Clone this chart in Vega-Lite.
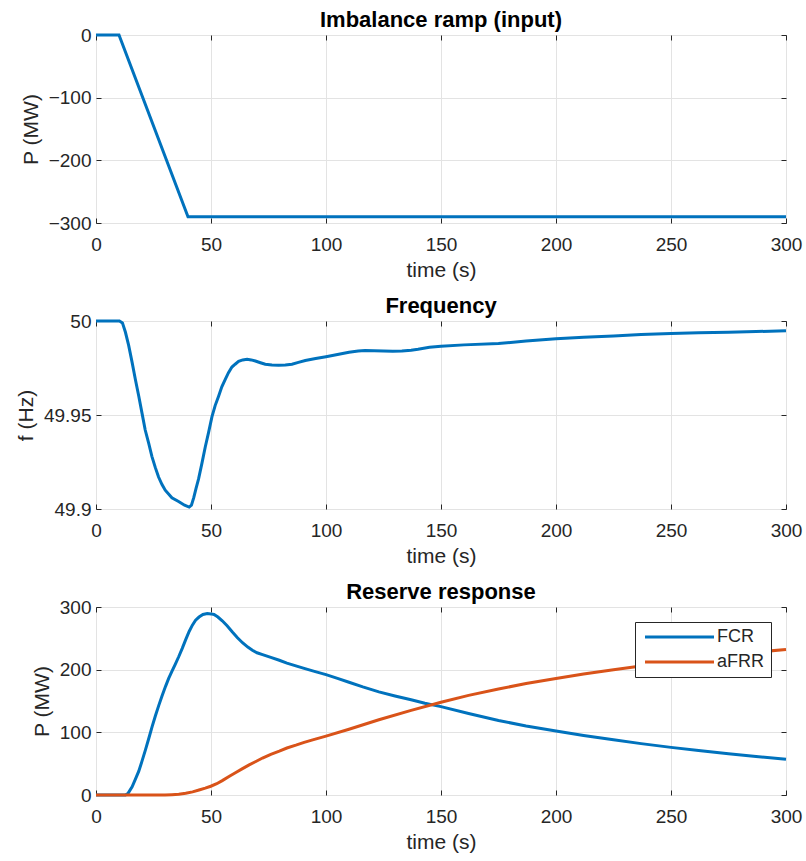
{
  "$schema": "https://vega.github.io/schema/vega-lite/v6.json",
  "padding": {"left": 14, "top": 8, "right": 2, "bottom": 0},
  "background": "white",
  "spacing": 13,
  "resolve": {"legend": {"color": "independent"}},
  "datasets": {
    "imb": [
      {"t": 0, "P": 0}, {"t": 10, "P": 0}, {"t": 40, "P": -290}, {"t": 300, "P": -290}
    ],
    "freq": [
      {"t": 0, "f": 50}, {"t": 10.2, "f": 50}, {"t": 11.5, "f": 49.999}, {"t": 12.8, "f": 49.994},
      {"t": 14.2, "f": 49.987}, {"t": 15.7, "f": 49.978}, {"t": 17.1, "f": 49.969}, {"t": 18.6, "f": 49.96},
      {"t": 20, "f": 49.951}, {"t": 21.4, "f": 49.942}, {"t": 22.9, "f": 49.935}, {"t": 24.3, "f": 49.928},
      {"t": 25.8, "f": 49.922}, {"t": 27.2, "f": 49.917}, {"t": 28.7, "f": 49.913}, {"t": 30.1, "f": 49.91},
      {"t": 33, "f": 49.906}, {"t": 35.9, "f": 49.904}, {"t": 38.5, "f": 49.902}, {"t": 40.5, "f": 49.901},
      {"t": 41.5, "f": 49.902}, {"t": 42.5, "f": 49.906}, {"t": 43.5, "f": 49.911}, {"t": 44.6, "f": 49.916},
      {"t": 46, "f": 49.924}, {"t": 47.5, "f": 49.933}, {"t": 49, "f": 49.941}, {"t": 50.4, "f": 49.949},
      {"t": 51.8, "f": 49.955}, {"t": 53.3, "f": 49.96}, {"t": 54.7, "f": 49.965}, {"t": 56.2, "f": 49.969},
      {"t": 57.6, "f": 49.9725}, {"t": 59.1, "f": 49.9755}, {"t": 60.5, "f": 49.977}, {"t": 62, "f": 49.9785},
      {"t": 63.8, "f": 49.9793}, {"t": 65.7, "f": 49.9796}, {"t": 67.5, "f": 49.9793}, {"t": 69.3, "f": 49.9787},
      {"t": 71.5, "f": 49.9778}, {"t": 73.6, "f": 49.977}, {"t": 76.5, "f": 49.9766}, {"t": 79.4, "f": 49.9764},
      {"t": 82.3, "f": 49.9766}, {"t": 85.2, "f": 49.977}, {"t": 88, "f": 49.978}, {"t": 91, "f": 49.979},
      {"t": 95.5, "f": 49.98}, {"t": 100, "f": 49.981}, {"t": 105, "f": 49.9822}, {"t": 110, "f": 49.9834},
      {"t": 114, "f": 49.984}, {"t": 117, "f": 49.9843}, {"t": 121, "f": 49.9842}, {"t": 125, "f": 49.984},
      {"t": 129, "f": 49.9839}, {"t": 133, "f": 49.984}, {"t": 137, "f": 49.9845}, {"t": 140, "f": 49.985},
      {"t": 145, "f": 49.986}, {"t": 150, "f": 49.9866}, {"t": 160, "f": 49.9873}, {"t": 175, "f": 49.988},
      {"t": 187, "f": 49.9893}, {"t": 200, "f": 49.9905}, {"t": 212, "f": 49.9913}, {"t": 225, "f": 49.992},
      {"t": 237, "f": 49.9928}, {"t": 250, "f": 49.9934}, {"t": 262, "f": 49.9937}, {"t": 275, "f": 49.994},
      {"t": 287, "f": 49.9944}, {"t": 300, "f": 49.9948}
    ],
    "res": [
      {"t": 0, "P": 0, "series": "FCR"}, {"t": 12.8, "P": 0, "series": "FCR"}, {"t": 14, "P": 3, "series": "FCR"},
      {"t": 15.7, "P": 13, "series": "FCR"}, {"t": 17, "P": 24, "series": "FCR"}, {"t": 18.6, "P": 38, "series": "FCR"},
      {"t": 20, "P": 54, "series": "FCR"}, {"t": 21.5, "P": 72, "series": "FCR"}, {"t": 23, "P": 91, "series": "FCR"},
      {"t": 24.4, "P": 109, "series": "FCR"}, {"t": 25.8, "P": 126, "series": "FCR"}, {"t": 27.3, "P": 143, "series": "FCR"},
      {"t": 28.7, "P": 158, "series": "FCR"}, {"t": 30.2, "P": 173, "series": "FCR"}, {"t": 31.6, "P": 186, "series": "FCR"},
      {"t": 33.1, "P": 198, "series": "FCR"}, {"t": 34.5, "P": 209, "series": "FCR"}, {"t": 36, "P": 221, "series": "FCR"},
      {"t": 37.5, "P": 234, "series": "FCR"}, {"t": 39, "P": 248, "series": "FCR"}, {"t": 40.5, "P": 261, "series": "FCR"},
      {"t": 41.9, "P": 271, "series": "FCR"}, {"t": 43.3, "P": 279, "series": "FCR"}, {"t": 44.8, "P": 284, "series": "FCR"},
      {"t": 46.5, "P": 288, "series": "FCR"}, {"t": 48.4, "P": 289.5, "series": "FCR"}, {"t": 50, "P": 289, "series": "FCR"},
      {"t": 51.3, "P": 288, "series": "FCR"}, {"t": 53, "P": 284, "series": "FCR"}, {"t": 54.9, "P": 278, "series": "FCR"},
      {"t": 57, "P": 270, "series": "FCR"}, {"t": 59.3, "P": 260, "series": "FCR"}, {"t": 61.5, "P": 251, "series": "FCR"},
      {"t": 63.7, "P": 243, "series": "FCR"}, {"t": 66, "P": 236, "series": "FCR"}, {"t": 68, "P": 231, "series": "FCR"},
      {"t": 70, "P": 227, "series": "FCR"}, {"t": 72.4, "P": 224, "series": "FCR"}, {"t": 76, "P": 219.5, "series": "FCR"},
      {"t": 79.7, "P": 215, "series": "FCR"}, {"t": 83, "P": 210.5, "series": "FCR"}, {"t": 86.9, "P": 206, "series": "FCR"},
      {"t": 90.5, "P": 202, "series": "FCR"}, {"t": 94.2, "P": 198, "series": "FCR"}, {"t": 100, "P": 192, "series": "FCR"},
      {"t": 105, "P": 186, "series": "FCR"}, {"t": 110, "P": 180, "series": "FCR"}, {"t": 116, "P": 172.5, "series": "FCR"},
      {"t": 123, "P": 164.5, "series": "FCR"}, {"t": 130, "P": 158, "series": "FCR"}, {"t": 137, "P": 152, "series": "FCR"},
      {"t": 143, "P": 146.5, "series": "FCR"}, {"t": 150, "P": 141, "series": "FCR"}, {"t": 162, "P": 130, "series": "FCR"},
      {"t": 175, "P": 119, "series": "FCR"}, {"t": 187, "P": 110, "series": "FCR"}, {"t": 200, "P": 102, "series": "FCR"},
      {"t": 212, "P": 95, "series": "FCR"}, {"t": 225, "P": 88, "series": "FCR"}, {"t": 237, "P": 82, "series": "FCR"},
      {"t": 250, "P": 76, "series": "FCR"}, {"t": 262, "P": 71, "series": "FCR"}, {"t": 275, "P": 66, "series": "FCR"},
      {"t": 287, "P": 61.5, "series": "FCR"}, {"t": 300, "P": 57, "series": "FCR"},
      {"t": 0, "P": 0, "series": "aFRR"}, {"t": 30, "P": 0, "series": "aFRR"}, {"t": 33, "P": 0.5, "series": "aFRR"},
      {"t": 36, "P": 1.2, "series": "aFRR"}, {"t": 39, "P": 2.7, "series": "aFRR"}, {"t": 42, "P": 5, "series": "aFRR"},
      {"t": 44.8, "P": 8, "series": "aFRR"}, {"t": 47.5, "P": 11, "series": "aFRR"}, {"t": 49.9, "P": 14, "series": "aFRR"},
      {"t": 52.5, "P": 18, "series": "aFRR"}, {"t": 54.9, "P": 23, "series": "aFRR"}, {"t": 58, "P": 30, "series": "aFRR"},
      {"t": 60.8, "P": 36, "series": "aFRR"}, {"t": 63.7, "P": 42, "series": "aFRR"}, {"t": 66.6, "P": 48, "series": "aFRR"},
      {"t": 69.5, "P": 53.5, "series": "aFRR"}, {"t": 72.4, "P": 59, "series": "aFRR"}, {"t": 76, "P": 65, "series": "aFRR"},
      {"t": 79.7, "P": 70, "series": "aFRR"}, {"t": 83, "P": 75, "series": "aFRR"}, {"t": 86.9, "P": 79.5, "series": "aFRR"},
      {"t": 90.5, "P": 84, "series": "aFRR"}, {"t": 94.2, "P": 88, "series": "aFRR"}, {"t": 100, "P": 94, "series": "aFRR"},
      {"t": 110, "P": 105, "series": "aFRR"}, {"t": 123, "P": 120, "series": "aFRR"}, {"t": 137, "P": 135, "series": "aFRR"},
      {"t": 150, "P": 148, "series": "aFRR"}, {"t": 162, "P": 159, "series": "aFRR"}, {"t": 175, "P": 169, "series": "aFRR"},
      {"t": 187, "P": 178, "series": "aFRR"}, {"t": 200, "P": 186, "series": "aFRR"}, {"t": 212, "P": 193, "series": "aFRR"},
      {"t": 225, "P": 200, "series": "aFRR"}, {"t": 237, "P": 206, "series": "aFRR"}, {"t": 250, "P": 212.5, "series": "aFRR"},
      {"t": 262, "P": 218, "series": "aFRR"}, {"t": 275, "P": 223, "series": "aFRR"}, {"t": 287, "P": 228, "series": "aFRR"},
      {"t": 300, "P": 232, "series": "aFRR"}
    ]
  },
  "vconcat": [
    {
      "title": "Imbalance ramp (input)",
      "width": 690,
      "height": 188,
      "data": {"name": "imb"},
      "resolve": {"axis": {"x": "independent", "y": "independent"}},
      "layer": [
        {
          "mark": {"type": "line", "color": "#0072BD", "strokeWidth": 3},
          "encoding": {
            "x": {"field": "t", "type": "quantitative", "scale": {"domain": [0, 300], "nice": false},
                  "axis": {"title": "time (s)", "values": [0, 50, 100, 150, 200, 250, 300]}},
            "y": {"field": "P", "type": "quantitative", "scale": {"domain": [-300, 0], "nice": false},
                  "axis": {"title": "P (MW)", "values": [-300, -200, -100, 0]}}
          }
        },
        {
          "mark": {"type": "line", "strokeOpacity": 0},
          "encoding": {
            "x": {"field": "t", "type": "quantitative",
                  "axis": {"orient": "top", "labels": false, "grid": false, "title": null, "labelPadding": 5, "values": [0, 50, 100, 150, 200, 250, 300]}},
            "y": {"field": "P", "type": "quantitative",
                  "axis": {"orient": "right", "labels": false, "grid": false, "title": null, "labelPadding": 5, "values": [-300, -200, -100, 0]}}
          }
        }
      ]
    },
    {
      "title": "Frequency",
      "width": 690,
      "height": 188,
      "data": {"name": "freq"},
      "resolve": {"axis": {"x": "independent", "y": "independent"}},
      "layer": [
        {
          "mark": {"type": "line", "color": "#0072BD", "strokeWidth": 3},
          "encoding": {
            "x": {"field": "t", "type": "quantitative", "scale": {"domain": [0, 300], "nice": false},
                  "axis": {"title": "time (s)", "values": [0, 50, 100, 150, 200, 250, 300]}},
            "y": {"field": "f", "type": "quantitative", "scale": {"domain": [49.9, 50], "nice": false, "zero": false},
                  "axis": {"title": "f (Hz)", "values": [49.9, 49.95, 50], "format": ".2~f"}}
          }
        },
        {
          "mark": {"type": "line", "strokeOpacity": 0},
          "encoding": {
            "x": {"field": "t", "type": "quantitative",
                  "axis": {"orient": "top", "labels": false, "grid": false, "title": null, "labelPadding": 5, "values": [0, 50, 100, 150, 200, 250, 300]}},
            "y": {"field": "f", "type": "quantitative",
                  "axis": {"orient": "right", "labels": false, "grid": false, "title": null, "labelPadding": 5, "values": [49.9, 49.95, 50]}}
          }
        }
      ]
    },
    {
      "title": "Reserve response",
      "width": 690,
      "height": 188,
      "data": {"name": "res"},
      "resolve": {"axis": {"x": "independent", "y": "independent"}},
      "layer": [
        {
          "mark": {"type": "line", "strokeWidth": 3},
          "encoding": {
            "x": {"field": "t", "type": "quantitative", "scale": {"domain": [0, 300], "nice": false},
                  "axis": {"title": "time (s)", "values": [0, 50, 100, 150, 200, 250, 300]}},
            "y": {"field": "P", "type": "quantitative", "scale": {"domain": [0, 300], "nice": false},
                  "axis": {"title": "P (MW)", "values": [0, 100, 200, 300]}},
            "color": {"field": "series", "type": "nominal",
                      "scale": {"domain": ["FCR", "aFRR"], "range": ["#0072BD", "#D95319"]},
                      "legend": {"orient": "top-right", "offset": 15, "title": null,
                                 "symbolType": "M-1,0H12.8", "symbolSize": 100, "symbolStrokeWidth": 3,
                                 "labelOffset": 58, "labelFontSize": 18, "labelFont": "Liberation Sans",
                                 "labelColor": "#262626", "strokeColor": "#262626", "fillColor": "white",
                                 "padding": 6, "rowPadding": 7, "cornerRadius": 0}}
          }
        },
        {
          "mark": {"type": "line", "strokeOpacity": 0},
          "encoding": {
            "x": {"field": "t", "type": "quantitative",
                  "axis": {"orient": "top", "labels": false, "grid": false, "title": null, "labelPadding": 5, "values": [0, 50, 100, 150, 200, 250, 300]}},
            "y": {"field": "P", "type": "quantitative",
                  "axis": {"orient": "right", "labels": false, "grid": false, "title": null, "labelPadding": 5, "values": [0, 100, 200, 300]}},
            "detail": {"field": "series"}
          }
        }
      ]
    }
  ],
  "config": {
    "view": {"stroke": "#262626", "strokeWidth": 1},
    "axis": {
      "domain": false,
      "tickSize": -5,
      "tickColor": "#262626",
      "labelFont": "Liberation Sans",
      "labelFontSize": 19,
      "labelColor": "#262626",
      "labelPadding": 10,
      "labelFlush": false,
      "titleFont": "Liberation Sans",
      "titleFontSize": 21,
      "titleFontWeight": "normal",
      "titleColor": "#262626",
      "titlePadding": 7,
      "gridColor": "#e3e3e3",
      "gridOpacity": 1
    },
    "axisX": {"labelPadding": 17, "titlePadding": 5, "labelFlush": false},
    "title": {"font": "Liberation Sans", "fontSize": 22, "fontWeight": "bold", "color": "#000000", "baseline": "alphabetic", "offset": -6}
  }
}
